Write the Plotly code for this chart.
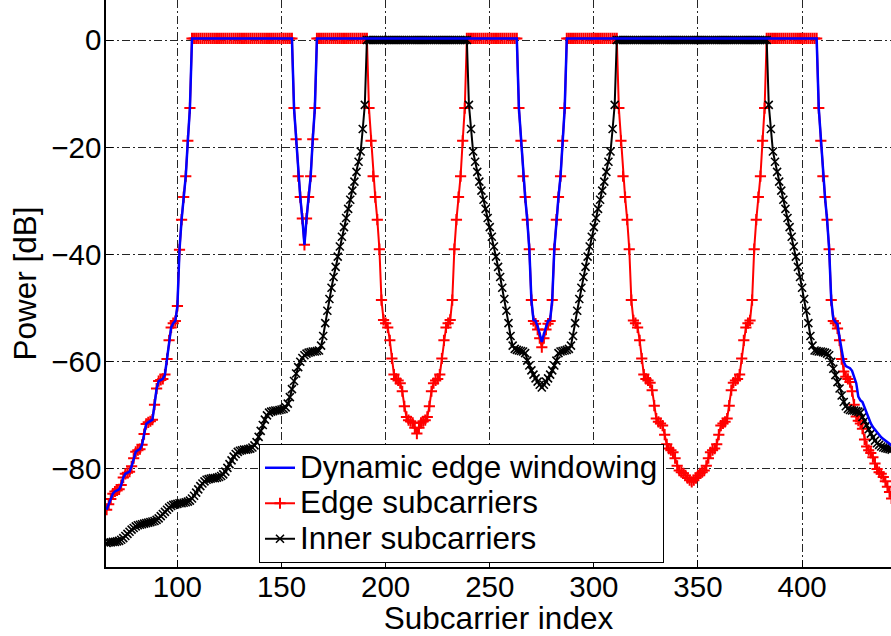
import plotly.graph_objects as go

# ---------------- data ----------------
subcarrier = list(range(66, 444))   # subcarrier index 66 .. 443

# Edge subcarriers (red, '+')
edge_tail_left = [
    -87.6, -86.6, -85.6, -84.6, -84.2, -84.0, -83.8, -83.0, -81.6, -80.9,   # 66-75
    -80.7, -80.5, -79.5, -78.0, -76.8, -76.5, -76.3, -75.5, -73.5, -71.6,   # 76-85
    -71.3, -71.1, -70.8, -68.0, -65.0, -63.6, -63.4, -63.2, -62.4, -59.5,   # 86-95
    -56.0, -53.6, -52.8, -52.4, -49.6, -39.1, -33.5, -29.3, -25.4, -18.8,   # 96-105
    -12.7,                                                                  # 106
]
edge_band_a = [0.3] * 49                                                    # 107-155
edge_dip_161 = [-12.7, -18.5, -25.4, -29.3, -33.3, -38.2,
                -33.3, -29.3, -25.4, -18.5, -12.7]                          # 156-166
edge_band_b = [0.3] * 25                                                    # 167-191
edge_dip_215 = [
    -12.7, -18.8, -25.4, -29.3, -33.5, -39.0, -48.5, -52.2, -52.8, -53.6,   # 192-201
    -56.0, -59.4, -62.4, -63.2, -63.5, -64.0, -65.5, -68.3, -70.3, -70.9,   # 202-211
    -71.1, -71.4, -72.3, -73.4, -72.3, -71.4, -71.1,                        # 212-218
    -70.9, -70.3, -68.3, -65.5, -64.0, -63.5, -63.2, -62.4, -59.4, -56.0,   # 219-228
    -53.6, -52.8, -52.2, -48.5, -39.0, -33.5, -29.3, -25.4, -18.8, -12.7,   # 229-238
]
edge_band_c = [0.3] * 25                                                    # 239-263
edge_dip_275 = [
    -12.7, -18.8, -25.4, -29.3, -33.5, -39.0, -48.5, -52.4, -52.9, -54.0, -55.6,  # 264-274
    -57.3,                                                                        # 275
    -55.6, -54.0, -52.9, -52.4, -48.5, -39.0, -33.5, -29.3, -25.4, -18.8, -12.7,  # 276-286
]
edge_band_d = [0.3] * 25                                                    # 287-311
edge_dip_347 = [
    -12.7, -18.8, -25.4, -29.3, -33.5, -39.0, -48.5, -52.3, -52.8, -53.6,   # 312-321
    -56.0, -59.4, -62.4, -63.2, -63.5, -63.9, -65.3, -68.2, -70.6, -71.2,   # 322-331
    -71.5, -71.9, -73.6, -75.4, -76.2, -76.5, -76.9, -78.0, -79.4, -80.3,   # 332-341
    -80.6, -80.8, -81.2, -81.7, -82.1, -82.4, -82.1, -81.7, -81.2, -80.8,   # 342-351
    -80.6, -80.3, -79.4, -78.0, -76.9, -76.5, -76.2, -75.4, -73.6, -71.9,   # 352-361
    -71.5, -71.2, -70.6, -68.2, -65.3, -63.9, -63.5, -63.2, -62.4, -59.4,   # 362-371
    -56.0, -53.6, -52.8, -52.3, -48.5, -39.0, -33.5, -29.3, -25.4, -18.8,   # 372-381
    -12.7,                                                                  # 382
]
edge_band_e = [0.3] * 25                                                    # 383-407
edge_tail_right = [
    -12.7, -18.8, -25.4, -29.3, -33.5, -39.0, -48.5, -52.4, -52.8, -53.8,   # 408-417
    -56.0, -59.5, -61.8, -62.8, -63.2, -63.8, -65.5, -68.0, -70.2, -71.0,   # 418-427
    -71.5, -72.5, -74.5, -75.8, -76.5, -77.0, -77.8, -79.0, -80.0, -80.6,   # 428-437
    -80.9, -81.5, -82.3, -83.3, -84.3, -85.5,                               # 438-443
]

# Dynamic edge windowing (blue line) - differs from the red curve where listed
dyn_band_inner1 = [0.2] * 47                                                # 192-238
dyn_dip_275 = [
    -12.7, -18.8, -25.4, -29.3, -33.5, -39.0, -48.5, -52.2, -52.4, -53.4, -54.8,  # 264-274
    -56.3,                                                                        # 275
    -54.8, -53.4, -52.4, -52.2, -48.5, -39.0, -33.5, -29.3, -25.4, -18.8, -12.7,  # 276-286
]
dyn_band_inner2 = [0.2] * 71                                                # 312-382
dyn_tail_right = [
    -12.7, -18.8, -25.4, -29.3, -33.5, -39.0, -48.5, -52.0, -52.6, -53.0,   # 408-417
    -55.5, -57.5, -60.0, -60.8, -61.0, -61.2, -61.7, -62.8, -64.0, -66.5,   # 418-427
    -67.2, -67.5, -68.5, -69.8, -70.8, -71.5, -72.2, -72.7, -73.0, -73.6,   # 428-437
    -74.1, -74.4, -74.7, -75.0, -75.3, -75.6,                               # 438-443
]

# Inner subcarriers (black, 'x')
inner_tail_left = [
    -93.8, -93.7, -93.7, -93.6, -93.6, -93.5, -93.4, -93.2, -92.9, -92.5,   # 66-75
    -92.1, -91.7, -91.3, -91.0, -90.7, -90.5, -90.4, -90.3, -90.2, -90.1,   # 76-85
    -90.0, -89.9, -89.8, -89.7, -89.5, -89.2, -88.8, -88.4, -88.0, -87.6,   # 86-95
    -87.2, -86.9, -86.7, -86.6, -86.5, -86.4, -86.4, -86.3, -86.2, -86.1,   # 96-105
    -85.9, -85.5, -85.0, -84.4, -83.8, -83.2, -82.7, -82.3, -82.0, -81.9,   # 106-115
    -81.8, -81.7, -81.7, -81.6, -81.5, -81.3, -81.0, -80.5, -79.8, -79.1,   # 116-125
    -78.4, -77.7, -77.2, -76.8, -76.6, -76.5, -76.4, -76.4, -76.3, -76.2,   # 126-135
    -76.0, -75.6, -75.0, -74.0, -72.9, -71.8, -70.8, -70.0, -69.5, -69.3,   # 136-145
    -69.2, -69.1, -69.1, -69.0, -68.9, -68.8, -68.5, -67.8, -66.6, -65.1,   # 146-155
    -63.6, -62.2, -61.0, -60.0, -59.3, -58.8, -58.5, -58.3, -58.2, -58.1,   # 156-165
    -58.1, -58.0, -57.9, -57.0, -55.2, -52.8, -50.5, -48.3, -46.2, -44.2,   # 166-175
    -42.3, -40.4, -38.5, -36.7, -34.9, -33.2, -31.5, -29.8, -28.1, -26.4,   # 176-185
    -24.6, -22.7, -20.8, -16.6, -12.1,                                      # 186-190
]
inner_band_a = [0.0] * 49                                                   # 191-239
inner_dip_275 = [
    -12.1, -16.6, -20.8, -22.7, -24.6, -26.4, -28.1, -29.8, -31.5, -33.2,   # 240-249
    -34.9, -36.7, -38.5, -40.4, -42.3, -44.2, -46.2, -48.3, -50.5, -52.8,   # 250-259
    -55.2, -57.0, -57.6, -57.8, -57.9, -58.0, -58.1, -58.4, -59.8, -60.7,   # 260-269
    -61.6, -62.4, -63.1, -63.7, -64.3, -64.8, -64.3, -63.7, -63.1, -62.4,   # 270-279
    -61.6, -60.7, -59.8, -58.4, -58.1, -58.0, -57.9, -57.8, -57.6, -57.0,   # 280-289
    -55.2, -52.8, -50.5, -48.3, -46.2, -44.2, -42.3, -40.4, -38.5, -36.7,   # 290-299
    -34.9, -33.2, -31.5, -29.8, -28.1, -26.4, -24.6, -22.7, -20.8, -16.6,   # 300-309
    -12.1,                                                                  # 310
]
inner_band_b = [0.0] * 73                                                   # 311-383
inner_tail_right = [
    -12.1, -16.6, -20.8, -22.7, -24.6, -26.4, -28.1, -29.8, -31.5, -33.2,   # 384-393
    -34.9, -36.7, -38.5, -40.4, -42.3, -44.2, -46.2, -48.3, -50.5, -52.8,   # 394-403
    -55.2, -57.0, -57.9, -58.0, -58.1, -58.1, -58.2, -58.3, -58.5, -58.8,   # 404-413
    -60.0, -61.3, -62.5, -63.8, -65.0, -66.3, -67.5, -68.3, -68.8, -69.0,   # 414-423
    -69.1, -69.1, -69.2, -69.3, -69.5, -70.3, -71.0, -71.8, -72.6, -73.4,   # 424-433
    -74.1, -74.7, -75.2, -75.5, -75.8, -76.0, -76.1, -76.2, -76.3, -76.4,   # 434-443
]

x_ticks = [100, 150, 200, 250, 300, 350, 400]
y_ticks = [0, -20, -40, -60, -80]

edge_power = (edge_tail_left + edge_band_a + edge_dip_161 + edge_band_b + edge_dip_215
              + edge_band_c + edge_dip_275 + edge_band_d + edge_dip_347 + edge_band_e
              + edge_tail_right)
dynamic_power = (edge_tail_left + edge_band_a + edge_dip_161 + edge_band_b + dyn_band_inner1
                 + edge_band_c + dyn_dip_275 + edge_band_d + dyn_band_inner2 + edge_band_e
                 + dyn_tail_right)
inner_power = (inner_tail_left + inner_band_a + inner_dip_275 + inner_band_b
               + inner_tail_right)

# ---------------- figure ----------------
FONT = "Liberation Sans, Arial, Helvetica, sans-serif"
TICK_FS = 29.5
TITLE_FS = 31.5
LEG_FS = 31.5        # size of the legend entry text
LEG_ROW_FS = 25      # base legend font: sets the (tighter) row spacing


def leg(name):
    return "<span style='font-size:%spx'>%s</span>" % (LEG_FS, name)


fig = go.Figure()
fig.add_trace(go.Scatter(
    x=subcarrier, y=edge_power, name=leg("Edge subcarriers"), mode="lines+markers",
    line=dict(color="#ff0000", width=2),
    marker=dict(symbol="cross-thin", size=8, color="#ff0000",
                line=dict(color="#ff0000", width=2)),
    legendrank=2))
fig.add_trace(go.Scatter(
    x=subcarrier, y=inner_power, name=leg("Inner subcarriers"), mode="lines+markers",
    line=dict(color="#000000", width=2),
    marker=dict(symbol="x-thin", size=8, color="#000000",
                line=dict(color="#000000", width=1.6)),
    legendrank=3))
fig.add_trace(go.Scatter(
    x=subcarrier, y=dynamic_power, name=leg("Dynamic edge windowing"), mode="lines",
    line=dict(color="#0000ff", width=2.5),
    legendrank=1))

axis_common = dict(
    showline=True, linecolor="black", linewidth=1.5,
    ticks="inside", ticklen=7, tickwidth=1, tickcolor="black",
    showgrid=True, gridcolor="rgba(0,0,0,0.85)", gridwidth=1,
    griddash="8px,3px,2px,3px",
    zeroline=False, mirror=False,
    tickfont=dict(family=FONT, size=TICK_FS, color="black"),
)

fig.update_layout(
    width=891, height=636,
    margin=dict(l=106, r=0, t=0, b=69),
    paper_bgcolor="white", plot_bgcolor="white",
    font=dict(family=FONT, size=TICK_FS, color="black"),
    showlegend=True,
    legend=dict(x=0.1949, y=0.2169, xanchor="left", yanchor="top",
                bgcolor="white", bordercolor="black", borderwidth=1,
                font=dict(family=FONT, size=LEG_ROW_FS, color="black"),
                tracegroupgap=0),
    xaxis=dict(range=[65.7, 442.7], tickvals=x_ticks, ticklabelstandoff=-7,
               title=dict(text="Subcarrier index", standoff=7,
                          font=dict(family=FONT, size=TITLE_FS, color="black")),
               **axis_common),
    yaxis=dict(range=[-98.28, 7.46], tickvals=y_ticks, ticklabelstandoff=-3,
               title=dict(text="Power [dB]", standoff=5,
                          font=dict(family=FONT, size=TITLE_FS, color="black")),
               **axis_common),
)

fig.write_html("out.html")
